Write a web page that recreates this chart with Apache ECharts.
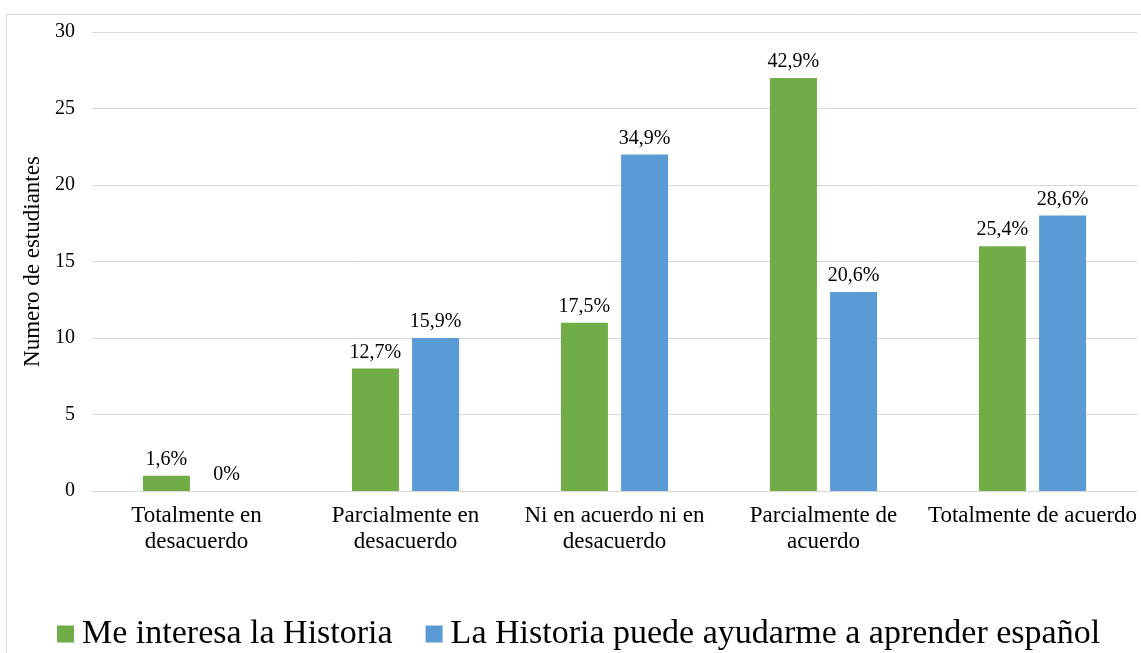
<!DOCTYPE html>
<html>
<head>
<meta charset="UTF-8">
<title>Interés por la Historia</title>
<script src="https://cdn.jsdelivr.net/npm/echarts@6/dist/echarts.min.js"></script>
<style>
  body { margin: 0; background: #fff; }
  #main { width: 1141px; height: 653px; }
</style>
</head>
<body>
<div id="main"></div>
<script type="text/javascript">
  // categorias del eje x (con salto de linea como en el original)
  var categorias = [
    'Totalmente en\ndesacuerdo',
    'Parcialmente en\ndesacuerdo',
    'Ni en acuerdo ni en\ndesacuerdo',
    'Parcialmente de\nacuerdo',
    'Totalmente de acuerdo'
  ];
  var serieNombres = ['Me interesa la Historia', 'La Historia puede ayudarme a aprender español'];
  var interesa = [1, 8, 11, 27, 16];
  var ayuda = [0, 10, 22, 13, 18];
  var interesaPct = ['1,6%', '12,7%', '17,5%', '42,9%', '25,4%'];
  var ayudaPct = ['0%', '15,9%', '34,9%', '20,6%', '28,6%'];
  var yTicks = [0, 5, 10, 15, 20, 25, 30];

  var fuente = '"Liberation Serif", "Times New Roman", serif';

  function etiquetas(pcts) {
    return {
      show: true,
      position: 'top',
      distance: 6,
      color: '#000',
      fontFamily: fuente,
      fontSize: 20,
      formatter: function (p) { return pcts[p.dataIndex]; }
    };
  }

  var myChart = echarts.init(document.getElementById('main'));
  var option = {
    animation: false,
    textStyle: { fontFamily: fuente },
    graphic: [{
      type: 'rect',
      left: 4, top: 12,
      shape: { x: 0, y: 0, width: 1300, height: 800 },
      style: { fill: 'none', stroke: '#d9d9d9', lineWidth: 1 },
      z: -1
    }],
    color: ['#70AD47', '#5B9BD5'],
    legend: {
      data: serieNombres,
      left: 57,
      top: 617,
      padding: 0,
      itemWidth: 17,
      itemHeight: 17,
      itemGap: 33,
      icon: 'rect',
      textStyle: { fontFamily: fuente, fontSize: 34, color: '#000', padding: [0, 0, 0, 3] }
    },
    grid: { left: 92, right: 4, top: 32, bottom: 162, containLabel: false },
    xAxis: {
      type: 'category',
      data: categorias,
      axisLine: { lineStyle: { color: '#d9d9d9', width: 1 } },
      axisTick: { show: false },
      axisLabel: {
        interval: 0,
        margin: 12,
        color: '#000',
        fontFamily: fuente,
        fontSize: 23,
        lineHeight: 26
      }
    },
    yAxis: {
      type: 'value',
      min: yTicks[0],
      max: yTicks[yTicks.length - 1],
      interval: yTicks[1] - yTicks[0],
      name: 'Numero de estudiantes',
      nameLocation: 'middle',
      nameRotate: 90,
      nameGap: 44,
      nameTextStyle: { fontFamily: fuente, fontSize: 23, color: '#000' },
      axisLine: { show: false },
      axisTick: { show: false },
      axisLabel: { margin: 17, color: '#000', fontFamily: fuente, fontSize: 20 },
      splitLine: { lineStyle: { color: '#d9d9d9', width: 1 } }
    },
    series: [
      {
        name: serieNombres[0],
        type: 'bar',
        data: interesa,
        barWidth: 47,
        barGap: '28%',
        label: etiquetas(interesaPct)
      },
      {
        name: serieNombres[1],
        type: 'bar',
        data: ayuda,
        barWidth: 47,
        barGap: '28%',
        label: etiquetas(ayudaPct)
      }
    ]
  };
  myChart.setOption(option);
</script>
</body>
</html>
